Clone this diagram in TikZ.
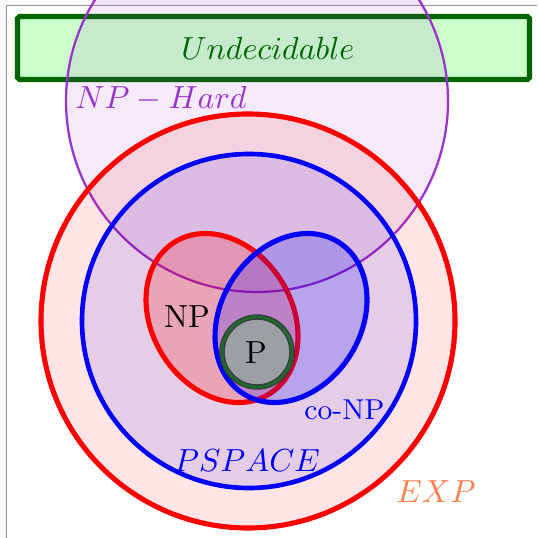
\documentclass[tikz,border=0pt]{standalone}
\usepackage{tikz}
\usepackage{xcolor}
\definecolor{undecgreen}{HTML}{006400}
\definecolor{undecfill}{HTML}{CCFFCC}
\definecolor{nphard}{HTML}{9932CC}
\definecolor{expcoral}{HTML}{FF7F50}
\definecolor{pgray}{HTML}{9AA0A3}
\definecolor{pedge}{HTML}{353D3D}
\definecolor{pgreen}{HTML}{24662F}
\definecolor{framegray}{HTML}{8E9597}

\begin{document}
\begin{tikzpicture}[x=0.011cm,y=-0.011cm,
  classline/.style={line width=1.6pt},
  classlabel/.style={inner sep=0pt}]
\useasboundingbox (0,0) rectangle (537,538);
% page frame
\fill[gray!4] (0,0) rectangle (537,538);
\fill[white] (6.5,5.5) rectangle (537,538);
\draw[framegray,line width=0.5pt] (6.5,538) -- (6.5,5.5) -- (537,5.5);

% centres
\coordinate (nphardc) at (257,101);
\coordinate (expc) at (248,321);
\coordinate (pspacec) at (249,321);
\coordinate (npc) at (222,318);
\coordinate (conpc) at (291,318);
\coordinate (pc) at (257,352);

% Undecidable
\draw[undecgreen,fill=undecfill,line width=1.6pt,rounded corners=0.6pt] (17.5,16.5) rectangle (529.5,79.5);

% NP-Hard
\draw[nphard,line width=0.7pt,fill=nphard,fill opacity=0.1] (nphardc) circle[radius=191];

% EXP and PSPACE
\draw[classline,red,fill=red,fill opacity=0.1] (expc) circle[radius=207];
\draw[classline,line width=1.45pt,blue,fill=blue,fill opacity=0.1] (pspacec) circle[radius=167];

% NP and co-NP
\draw[classline,red,fill=red,fill opacity=0.2,rotate around={-58:(npc)}] (npc) ellipse[x radius=89.5,y radius=70];
\draw[classline,blue,fill=blue,fill opacity=0.2,rotate around={58:(conpc)}] (conpc) ellipse[x radius=89.5,y radius=70];

% P
\draw[pedge,line width=0.4pt,double=pgreen,double distance=0.9pt,fill=pgray] (pc) circle[radius=35];

% labels
\node[classlabel,text=undecgreen] (undec) at (268,48) {$Undecidable$};
\node[classlabel,text=nphard] (nphardlbl) at (161,99) {$NP-Hard$};
\node[classlabel] (nplbl) at (187,317) {NP};
\node[classlabel] (plbl) at (256,353) {P};
\node[classlabel,text=blue,font=\small] (conplbl) at (344.5,410) {co-NP};
\node[classlabel,text=blue] (pspacelbl) at (247,461) {$PSPACE$};
\node[classlabel,text=expcoral] (explbl) at (436,492) {$EXP$};
\end{tikzpicture}
\end{document}
